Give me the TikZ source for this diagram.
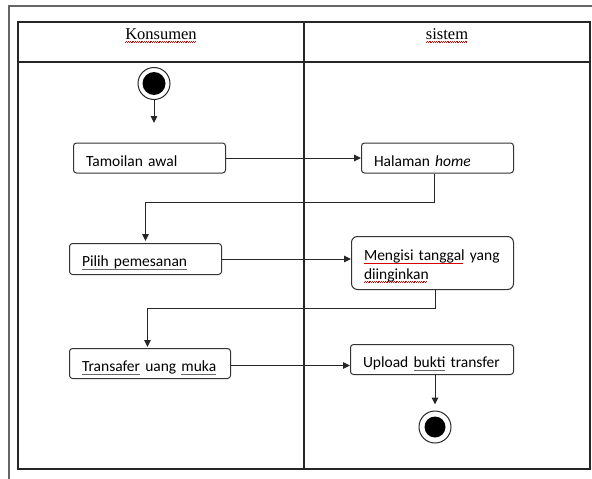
\documentclass[tikz,border=0pt]{standalone}
\usepackage{fontspec}
\setmainfont{Liberation Serif}
\newfontfamily\boxfont{Carlito}
\usetikzlibrary{arrows.meta,calc}

% red wavy underline (spelling mark) and a thin grey underline (grammar mark)
\newsavebox\markbox
\newcommand\spellwave[1]{\leavevmode\sbox\markbox{#1}%
  \rlap{\color{red!85!black}\leaders\hbox{\rule[-3.4pt]{0.9pt}{0.6pt}\rule[-2.6pt]{0.9pt}{0.6pt}}\hskip\wd\markbox}%
  \usebox\markbox}
\newcommand\grammarline[1]{\leavevmode\sbox\markbox{#1}%
  \rlap{\color{black!60}\rule[-2.8pt]{\wd\markbox}{0.7pt}}%
  \usebox\markbox}

\begin{document}
\begin{tikzpicture}[x=1pt,y=-1pt,
  frame/.style={draw=black!60,line width=1.6pt},
  lane/.style={draw=black!85,line width=1.1pt},
  actbox/.style={draw=black!80,line width=1pt,rounded corners=3pt,
    inner xsep=12.5pt,inner ysep=0pt,align=left,anchor=north west,
    text height=23pt,text depth=7pt,
    font=\boxfont\fontsize{15.5}{18.6}\selectfont},
  flow/.style={draw=black!85,line width=1pt,-{Triangle[length=7pt,width=6.5pt]}},
  head/.style={font=\fontsize{16.5}{19}\selectfont,anchor=base},
  ring/.style={circle,draw=black!85,line width=1pt,minimum size=32pt,inner sep=0pt},
  dot/.style={circle,fill=black,inner sep=0pt},
]
\useasboundingbox (0,0) rectangle (592,479);

% outer page frame
\draw[frame] (9,479) -- (9,6) -- (592,6);

% swimlane table
\draw[lane] (18,22) rectangle (590,469);
\draw[lane] (18,62) -- (590,62);
\draw[lane] (304,22) -- (304,469);

% lane headers
\node[head] (konsumen) at (161,39) {\spellwave{Konsumen}};
\node[head] (sistem) at (447,39) {\spellwave{sistem}};

% initial node
\node[ring] (start) at (154,83.5) {};
\node[dot,minimum size=23pt] (startdot) at (start.center) {};
\coordinate (startgo) at (154,123);

% actions
\node[actbox,text width=127pt] (tampil) at (73,142.5) {Tamoilan awal};
\node[actbox,text width=127pt] (halaman) at (361,142.5) {Halaman \textit{home}};
\node[actbox,text width=127pt,text depth=8pt] (pilih) at (69,243) {\grammarline{Pilih pemesanan}};
\node[actbox,text width=137pt,text height=24pt,text depth=29pt,rounded corners=6pt] (mengisi) at (351,236)
  {\spellwave{Mengisi tanggal} yang\\\spellwave{diinginkan}};
\node[actbox,text width=136pt] (transfer) at (69,348) {\grammarline{Transafer} uang \grammarline{muka}};
\node[actbox,text width=138pt] (upload) at (350,344) {Upload \grammarline{bukti} transfer};

% final node
\node[ring] (endring) at (435,427) {};
\node[dot,minimum size=21pt] (enddot) at (endring.center) {};

% control flow
\draw[flow] (start) -- (startgo);
\draw[flow] (tampil.east) -- (tampil.east -| halaman.west);
\draw[flow,shorten >=2pt] ([xshift=-3pt]halaman.south) -- ++(0,28.5) -| (pilih.north);
\draw[flow] (pilih.east) -- (pilih.east -| mengisi.west);
\draw[flow,shorten >=1pt] ([xshift=3pt]mengisi.south) -- ++(0,18) -| ([xshift=-2.5pt]transfer.north);
\draw[flow] ([yshift=-2pt]transfer.east) -- ([yshift=-2pt]transfer.east -| upload.west);
\draw[flow,shorten >=6pt] (upload.south -| endring.center) -- (endring.north);
\end{tikzpicture}
\end{document}
